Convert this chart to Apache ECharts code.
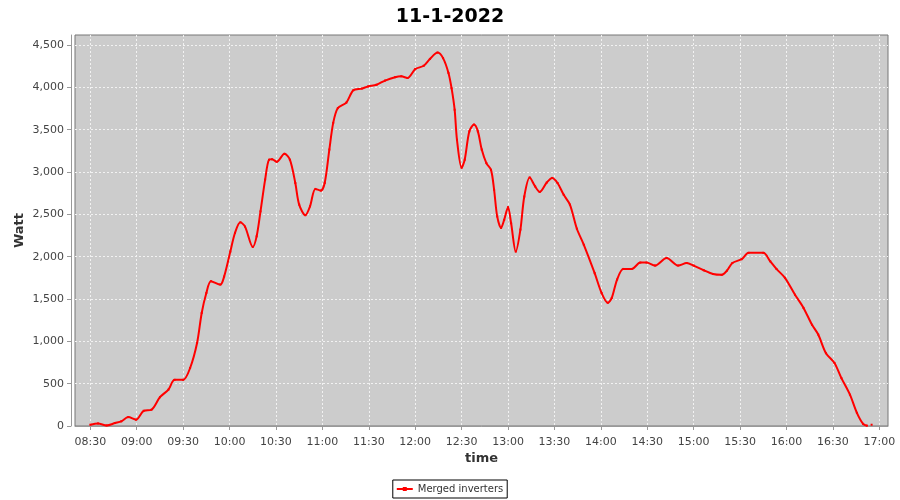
<!DOCTYPE html>
<html>
<head>
<meta charset="utf-8">
<title>11-1-2022</title>
<script src="https://cdn.jsdelivr.net/npm/echarts@6/dist/echarts.min.js"></script>
<style>
  html, body { margin: 0; padding: 0; background: #fff; }
  #chart { width: 900px; height: 500px; }
</style>
</head>
<body>
<div id="chart"></div>
<script>
// Samples (time of day, watt)
const sampleTimes = [
  '08:30:00', '08:35:00', '08:40:30', '08:46:00', '08:50:00', '08:54:30', '08:59:30', '09:04:30',
  '09:09:30', '09:15:00', '09:20:30', '09:24:30', '09:30:00', '09:34:30', '09:39:00', '09:42:00',
  '09:45:00', '09:48:00', '09:54:00', '09:56:30', '10:00:30', '10:03:30', '10:07:00', '10:10:00',
  '10:15:00', '10:17:30', '10:20:00', '10:23:00', '10:25:30', '10:27:30', '10:30:30', '10:35:30',
  '10:39:00', '10:42:30', '10:45:00', '10:49:00', '10:52:00', '10:55:30', '10:59:00', '11:01:30',
  '11:04:30', '11:07:00', '11:10:00', '11:15:30', '11:20:00', '11:25:30', '11:29:30', '11:35:00',
  '11:40:30', '11:47:00', '11:51:00', '11:55:00', '12:00:00', '12:05:30', '12:09:30', '12:14:30',
  '12:18:00', '12:21:30', '12:23:30', '12:25:30', '12:27:00', '12:30:00', '12:32:00', '12:35:00',
  '12:38:00', '12:40:30', '12:43:00', '12:46:00', '12:49:00', '12:51:00', '12:53:00', '12:55:30',
  '12:57:30', '13:00:00', '13:02:00', '13:05:00', '13:08:00', '13:10:30', '13:14:00', '13:17:30',
  '13:20:30', '13:25:00', '13:28:30', '13:32:00', '13:36:00', '13:40:00', '13:44:30', '13:49:00',
  '13:56:00', '14:00:30', '14:04:30', '14:07:00', '14:10:30', '14:14:30', '14:20:00', '14:25:30',
  '14:29:30', '14:35:00', '14:42:30', '14:50:00', '14:55:30', '15:00:00', '15:06:30', '15:12:30',
  '15:18:00', '15:21:30', '15:25:00', '15:31:00', '15:35:30', '15:45:00', '15:49:30', '15:53:30',
  '15:59:00', '16:05:30', '16:11:00', '16:16:30', '16:20:30', '16:25:30', '16:31:00', '16:35:30',
  '16:41:00', '16:45:30', '16:49:30', '16:52:00', '16:53:30', '16:55:00'
];
const mergedWatt = [
  15, 30, 7, 35, 55, 105, 75, 180,
  192, 340, 430, 545, 545, 685, 980, 1335,
  1570, 1710, 1670, 1765, 2060, 2280, 2405, 2355,
  2115, 2240, 2535, 2910, 3145, 3150, 3120, 3215,
  3145, 2870, 2615, 2490, 2595, 2800, 2780, 2870,
  3265, 3580, 3755, 3820, 3965, 3985, 4010, 4030,
  4080, 4120, 4130, 4110, 4215, 4255, 4335, 4410,
  4345, 4170, 3990, 3735, 3380, 3050, 3145, 3480,
  3560, 3480, 3265, 3105, 3025, 2790, 2475, 2340,
  2435, 2585, 2395, 2060, 2320, 2710, 2935, 2830,
  2765, 2875, 2930, 2870, 2730, 2615, 2330, 2140,
  1805, 1570, 1455, 1510, 1730, 1855, 1855, 1930,
  1930, 1895, 1985, 1895, 1925, 1895, 1840, 1795,
  1785, 1835, 1925, 1970, 2045, 2045, 1945, 1855,
  1750, 1550, 1395, 1195, 1080, 860, 745, 565,
  370, 155, 25, 4, null, 15
];
const xTickTimes = ['08:30', '09:00', '09:30', '10:00', '10:30', '11:00', '11:30', '12:00', '12:30',
  '13:00', '13:30', '14:00', '14:30', '15:00', '15:30', '16:00', '16:30', '17:00'];
const yTickValues = [0, 500, 1000, 1500, 2000, 2500, 3000, 3500, 4000, 4500];

function toMinutes(s) {
  const p = s.split(':').map(Number);
  return p[0] * 60 + p[1] + (p[2] || 0) / 60;
}
function fmtTime(m) {
  const h = Math.floor(m / 60), mm = Math.round(m - h * 60);
  return String(h).padStart(2, '0') + ':' + String(mm).padStart(2, '0');
}

const seriesData = sampleTimes.map((t, i) => [toMinutes(t), mergedWatt[i] == null ? '-' : mergedWatt[i]]);
const xTicks = xTickTimes.map(toMinutes);

const font = 'DejaVu Sans';
const chart = echarts.init(document.getElementById('chart'));

chart.setOption({
  animation: false,
  textStyle: { fontFamily: font },
  title: {
    text: '11-1-2022',
    left: 'center',
    top: 3,
    textStyle: { fontFamily: font, fontSize: 19, fontWeight: 'bold', color: '#000' }
  },
  legend: {
    bottom: 2,
    left: 'center',
    data: [{ name: 'Merged inverters', icon: 'path://M0,3H16V5H0Z M6,2H10V6H6Z' }],
    itemWidth: 16,
    itemHeight: 8,
    padding: [4, 4],
    borderColor: '#000',
    borderWidth: 1,
    backgroundColor: '#fff',
    textStyle: { fontFamily: font, fontSize: 10, color: '#333' }
  },
  grid: {
    left: 75, right: 12, top: 35, bottom: 74,
    show: true,
    backgroundColor: '#cccccc',
    borderColor: '#777',
    borderWidth: 1
  },
  xAxis: {
    type: 'value',
    min: 500.1,
    max: 1025.6,
    offset: 4,
    name: 'time',
    nameLocation: 'middle',
    nameGap: 22,
    nameMoveOverlap: false,
    nameTextStyle: { fontFamily: font, fontSize: 13, fontWeight: 'bold', color: '#333' },
    axisLine: { lineStyle: { color: '#999' } },
    axisTick: { customValues: xTicks, length: 4, lineStyle: { color: '#999' } },
    axisLabel: {
      customValues: xTicks,
      formatter: (v) => fmtTime(v),
      margin: 7,
      fontSize: 11,
      color: '#444'
    },
    splitLine: { show: true, lineStyle: { color: '#f2f2f2', type: [2, 2], width: 1 } }
  },
  yAxis: {
    type: 'value',
    min: 0,
    max: 4618,
    offset: 4,
    name: 'Watt',
    nameLocation: 'middle',
    nameRotate: 90,
    nameGap: 45,
    nameMoveOverlap: false,
    nameTextStyle: { fontFamily: font, fontSize: 13, fontWeight: 'bold', color: '#333' },
    axisLine: { show: true, lineStyle: { color: '#999' } },
    axisTick: { show: true, customValues: yTickValues, length: 4, lineStyle: { color: '#999' } },
    axisLabel: {
      customValues: yTickValues,
      formatter: (v) => v.toLocaleString('en-US'),
      margin: 7,
      fontSize: 11,
      color: '#444'
    },
    splitLine: { show: true, lineStyle: { color: '#f2f2f2', type: [2, 2], width: 1 } }
  },
  series: [{
    name: 'Merged inverters',
    type: 'line',
    data: seriesData,
    smooth: 0.3,
    showSymbol: true,
    symbol: 'rect',
    symbolSize: 2,
    connectNulls: false,
    lineStyle: { color: '#ff0000', width: 2 },
    itemStyle: { color: '#ff0000' },
    emphasis: { disabled: true }
  }]
});
</script>
</body>
</html>
